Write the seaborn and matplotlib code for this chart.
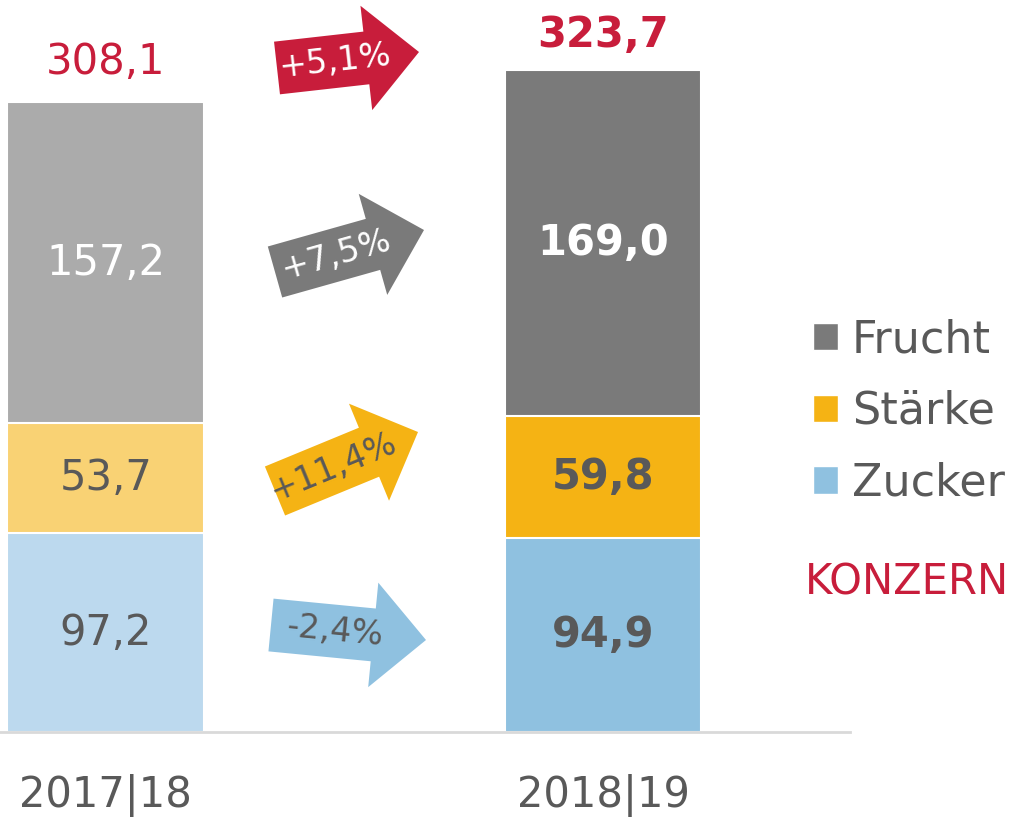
import numpy as np
import pandas as pd
import seaborn as sns
import matplotlib.pyplot as plt
from matplotlib.patches import Patch, Polygon

# data
years = ["2017|18", "2018|19"]
zucker = [97.2, 94.9]
staerke = [53.7, 59.8]
frucht = [157.2, 169.0]
totals = [308.1, 323.7]
changes = ["+5,1%", "+7,5%", "+11,4%", "-2,4%"]  # Konzern, Frucht, Stärke, Zucker

RED = "#c81d3b"
DARK = "#595959"
# (light for 2017|18, dark for 2018|19)
col_frucht = ["#ababab", "#7a7a7a"]
col_staerke = ["#f9d274", "#f5b314"]
col_zucker = ["#bcd9ee", "#8fc1e0"]

def fmt(v):
    return f"{v:.1f}".replace(".", ",")

sns.set_style("white")
plt.rcParams["font.family"] = ["DejaVu Sans"]

fig = plt.figure(figsize=(10.13, 8.22), dpi=100)
ax = fig.add_axes([0, 90 / 822, 850 / 1013, 732 / 822])

df = pd.DataFrame({"year": years, "zucker": zucker, "staerke": staerke, "frucht": frucht})
df["lvl2"] = df["zucker"] + df["staerke"]
df["lvl3"] = df["lvl2"] + df["frucht"]

# stacked bars, drawn top layer first
for col, pal in [("lvl3", col_frucht), ("lvl2", col_staerke), ("zucker", col_zucker)]:
    sns.barplot(data=df, x="year", y=col, hue="year", palette=pal, width=0.396,
                saturation=1, errorbar=None, legend=False, ax=ax,
                edgecolor="white", linewidth=1.5)

ax.set_xlim(-0.213, 1.497)
ax.set_ylim(0, 358)
ax.set_xlabel("")
ax.set_ylabel("")
ax.set_yticks([])
for s in ["top", "right", "left"]:
    ax.spines[s].set_visible(False)
ax.spines["bottom"].set_color("#d9d9d9")
ax.spines["bottom"].set_linewidth(2)
ax.tick_params(axis="x", length=0, pad=30, labelsize=30, labelcolor=DARK)

# segment labels
for i in range(2):
    bold = "bold" if i == 1 else "normal"
    segs = [(0, zucker[i], DARK), (zucker[i], staerke[i], DARK),
            (zucker[i] + staerke[i], frucht[i], "white")]
    for bottom, v, c in segs:
        ax.text(i, bottom + v / 2, fmt(v), ha="center", va="center",
                fontsize=30, color=c, fontweight=bold)
    ax.annotate(fmt(totals[i]), (i, totals[i]), xytext=(0, 29 if i == 0 else 25),
                textcoords="offset points", ha="center", va="center",
                fontsize=30, color=RED, fontweight=bold)

# overlay in pixel coordinates for the arrows
oax = fig.add_axes([0, 0, 1, 1], zorder=5)
oax.set_xlim(0, 1013)
oax.set_ylim(822, 0)
oax.axis("off")

def arrow(tail, tip, color, text, tcolor, bw=53, hw=105, hl=53):
    tail = np.array(tail, float)
    tip = np.array(tip, float)
    d = tip - tail
    L = np.hypot(*d)
    d = d / L
    n = np.array([-d[1], d[0]])
    neck = tail + d * (L - hl)
    pts = [tail + n * bw / 2, neck + n * bw / 2, neck + n * hw / 2, tip,
           neck - n * hw / 2, neck - n * bw / 2, tail - n * bw / 2]
    oax.add_patch(Polygon(pts, closed=True, facecolor=color, edgecolor="none"))
    c = tail + d * L * 0.41
    ang = np.degrees(np.arctan2(-d[1], d[0]))
    oax.text(c[0], c[1], text, ha="center", va="center", rotation=ang,
             rotation_mode="anchor", fontsize=24, color=tcolor)

arrow((277, 68), (419, 52), RED, changes[0], "white")
arrow((275, 272), (424, 230), col_frucht[1], changes[1], "white")
arrow((275, 491), (418, 432), col_staerke[1], changes[2], DARK)
arrow((271, 625), (426, 640), col_zucker[1], changes[3], DARK)

# legend
handles = [Patch(facecolor=col_frucht[1]), Patch(facecolor=col_staerke[1]),
           Patch(facecolor=col_zucker[1])]
fig.legend(handles, ["Frucht", "Stärke", "Zucker"], loc="upper left",
           bbox_to_anchor=(813 / 1013, 1 - 318 / 822), frameon=False, fontsize=32,
           handlelength=0.57, handleheight=0.57, handletextpad=0.3, labelspacing=0.65,
           borderaxespad=0, borderpad=0, labelcolor=DARK)
oax.text(805, 582, "KONZERN", ha="left", va="center", fontsize=30, color=RED)

fig.savefig("out.png", dpi=100)
